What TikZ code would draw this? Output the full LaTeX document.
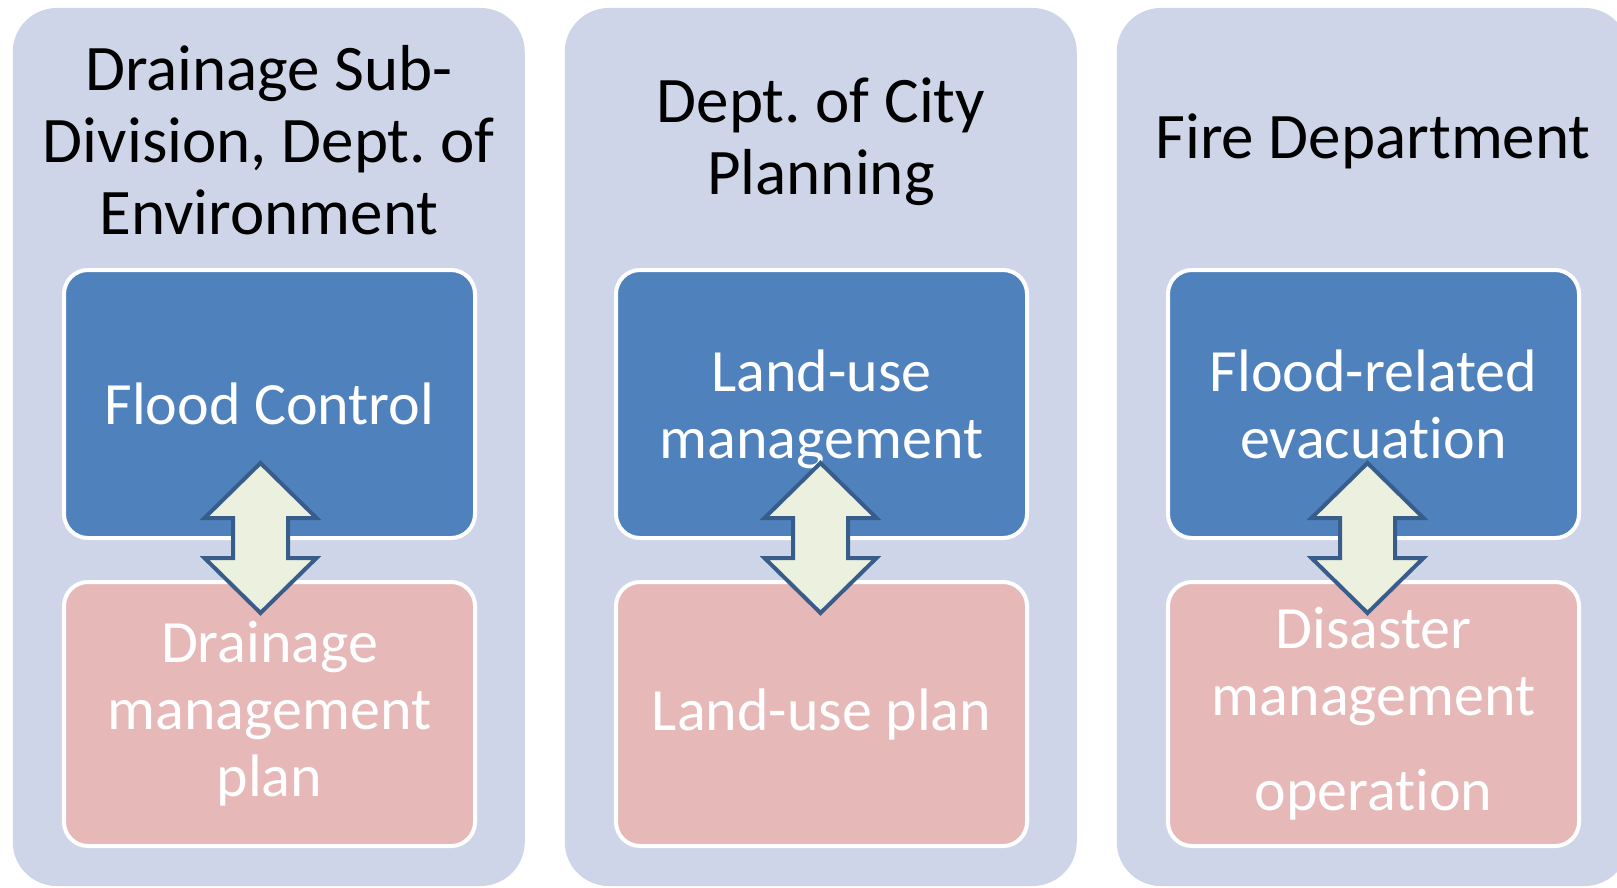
\documentclass[tikz,border=0pt]{standalone}
\usepackage{fontspec}
\setmainfont{Carlito}[Ligatures=NoCommon]
\usetikzlibrary{calc,positioning}
\definecolor{deptbg}{RGB}{207,213,232}
\definecolor{taskblue}{RGB}{79,129,189}
\definecolor{planpink}{RGB}{230,185,184}
\definecolor{arrowfill}{RGB}{235,241,222}
\definecolor{arrowline}{RGB}{56,93,138}
\frenchspacing

\begin{document}
\begin{tikzpicture}[x=0.5pt,y=-0.5pt,
  dept/.style={fill=deptbg,rounded corners=22pt,minimum width=256pt,
    minimum height=439pt,inner sep=0pt},
  title/.style={font=\fontsize{32.5pt}{36pt}\selectfont,align=center},
  task/.style={draw=white,line width=2pt,fill=taskblue,rounded corners=12pt,
    minimum width=205.5pt,minimum height=134pt,inner sep=0pt,align=center,
    text=white,font=\fontsize{30pt}{33.5pt}\selectfont,text depth=0pt},
  plan/.style={task,fill=planpink,minimum height=132pt,text depth=},
  twoway/.style={draw=arrowline,fill=arrowfill,line width=2pt}]
  \useasboundingbox (0,0) rectangle (1617,888);

  % department panels
  \node[dept] (d1) at (268.75,447) {};
  \node[dept] (d2) at (820.75,447) {};
  \node[dept] (d3) at (1372.75,447) {};

  \node[title] (t1) at (269,140) {Drainage Sub-\\Division, Dept. of\\Environment};
  \node[title] (t2) at (821,142) {Dept. of City\\Planning};
  \node[title] (t3) at (1373,141) {Fire Department};

  % tasks and plans
  \node[task] (b1) at (269.5,404) {Flood Control};
  \node[plan] (p1) [below=20pt of b1] {Drainage\\management\\plan};
  \node[task] (b2) at (821.5,404) {Land-use\\management};
  \node[plan] (p2) [below=20pt of b2] {Land-use plan};
  \node[task] (b3) at (1373.5,404) {Flood-related\\evacuat\kern0pt ion};
  \node[plan] (p3) [below=20pt of b3] {Disaster\\management\\[14pt]operat\kern0pt ion};

  % two-way arrows
  \foreach \c/\dx in {1/-9,2/-1,3/-6} {
    \draw[twoway] ($(b\c.south)+(\dx,-2)$) coordinate (m\c)
      ++(0,-75) -- ++(56,55) -- ++(-28.5,0) -- ++(0,40) -- ++(28.5,0)
      -- ++(-56,55) -- ++(-56,-55) -- ++(28.5,0) -- ++(0,-40)
      -- ++(-28.5,0) -- cycle;
  }
\end{tikzpicture}
\end{document}
